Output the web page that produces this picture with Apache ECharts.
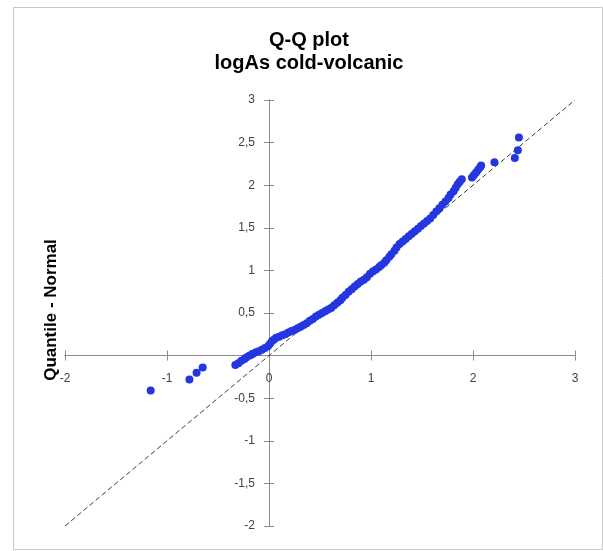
<!DOCTYPE html>
<html>
<head>
<meta charset="utf-8">
<script src="https://cdn.jsdelivr.net/npm/echarts@6/dist/echarts.min.js"></script>
<style>
  html, body { margin: 0; padding: 0; background: #ffffff; }
  #chart { width: 603px; height: 551px; }
</style>
</head>
<body>
<div id="chart"></div>
<script>
// Observed values (x) against normal quantiles (y) for logAs, cold-volcanic group
const obsX = [
  -1.16, -0.78, -0.71, -0.65,
  -0.33, -0.30, -0.27, -0.24, -0.22, -0.19, -0.16, -0.13, -0.10, -0.07, -0.04, -0.01,
  0.01, 0.03, 0.05, 0.07, 0.10, 0.13, 0.16, 0.19, 0.22, 0.25, 0.28, 0.31, 0.34, 0.37,
  0.40, 0.43, 0.46, 0.49, 0.52, 0.55, 0.58, 0.61, 0.64, 0.67, 0.70, 0.72, 0.75, 0.78,
  0.81, 0.84, 0.87, 0.90, 0.93, 0.96, 0.99, 1.02, 1.05, 1.08, 1.10, 1.13, 1.15, 1.18,
  1.20, 1.23, 1.25, 1.28, 1.31, 1.34, 1.37, 1.40, 1.43, 1.46, 1.49, 1.52, 1.55, 1.58,
  1.61, 1.64, 1.67, 1.70, 1.73, 1.76, 1.78, 1.81, 1.83, 1.85, 1.87, 1.89,
  1.99, 2.01, 2.03, 2.05, 2.07, 2.08,
  2.21, 2.41, 2.44, 2.45
];
const normQ = [
  -0.41, -0.28, -0.20, -0.14,
  -0.11, -0.09, -0.06, -0.04, -0.02, 0.00, 0.02, 0.04, 0.05, 0.07, 0.09, 0.11,
  0.14, 0.17, 0.19, 0.21, 0.22, 0.24, 0.25, 0.27, 0.29, 0.30, 0.32, 0.34, 0.36, 0.38,
  0.41, 0.43, 0.46, 0.48, 0.50, 0.52, 0.54, 0.56, 0.59, 0.62, 0.65, 0.68, 0.71, 0.75,
  0.78, 0.81, 0.84, 0.87, 0.89, 0.92, 0.96, 0.99, 1.01, 1.04, 1.06, 1.09, 1.12, 1.16,
  1.19, 1.23, 1.27, 1.31, 1.34, 1.37, 1.40, 1.43, 1.46, 1.49, 1.52, 1.55, 1.58, 1.61,
  1.65, 1.69, 1.73, 1.77, 1.81, 1.85, 1.89, 1.93, 1.97, 2.01, 2.04, 2.07,
  2.09, 2.12, 2.15, 2.18, 2.21, 2.23,
  2.27, 2.32, 2.41, 2.56
];
// Reference line y = x
const refLine = [[-2, -2], [3, 3]];

const xTicks = { min: -2, max: 3, step: 1 };
const yTicks = { min: -2, max: 3, step: 0.5 };

const titleLines = ['Q-Q plot', 'logAs cold-volcanic'];
const yTitle = 'Quantile - Normal';

const points = obsX.map((x, i) => [x, normQ[i]]);
const commaDecimal = v => String(v).replace('.', ',');

// Plot area in pixels; the axes cross at (0, 0)
const grid = { left: 65, right: 28, top: 100, bottom: 25 };
const chartW = 603, chartH = 551;
const plotW = chartW - grid.left - grid.right;
const plotH = chartH - grid.top - grid.bottom;
// Shift each axis from the plot edge onto the other axis's zero
const xAxisShift = -plotH * (0 - yTicks.min) / (yTicks.max - yTicks.min);
const yAxisShift = -plotW * (0 - xTicks.min) / (xTicks.max - xTicks.min);

const axisColor = '#8c8c8c';
const labelStyle = { color: '#404040', fontSize: 12, fontFamily: 'Liberation Sans, Arial, sans-serif' };

function xAxisDef(inside, showLabel) {
  return {
    type: 'value', position: 'bottom', offset: xAxisShift,
    min: xTicks.min, max: xTicks.max, interval: xTicks.step,
    axisLine: { onZero: false, lineStyle: { color: axisColor, width: 1 } },
    axisTick: { show: true, inside: inside, length: 5, lineStyle: { color: axisColor } },
    axisLabel: Object.assign({ show: showLabel, margin: 17, formatter: commaDecimal }, labelStyle),
    splitLine: { show: false }
  };
}
function yAxisDef(inside, showLabel) {
  return {
    type: 'value', position: 'left', offset: yAxisShift,
    min: yTicks.min, max: yTicks.max, interval: yTicks.step,
    axisLine: { onZero: false, lineStyle: { color: axisColor, width: 1 } },
    axisTick: { show: true, inside: inside, length: 5, lineStyle: { color: axisColor } },
    axisLabel: Object.assign({ show: showLabel, margin: 14, formatter: commaDecimal }, labelStyle),
    splitLine: { show: false }
  };
}

const chart = echarts.init(document.getElementById('chart'), null, { renderer: 'canvas' });
chart.setOption({
  animation: false,
  backgroundColor: '#ffffff',
  title: {
    text: titleLines.join('\n'),
    left: 304, top: 24, textAlign: 'center',
    textStyle: { fontSize: 20, fontWeight: 'bold', color: '#000000', lineHeight: 23,
                 fontFamily: 'Liberation Sans, Arial, sans-serif' }
  },
  grid: grid,
  xAxis: [xAxisDef(false, true), xAxisDef(true, false)],
  yAxis: [yAxisDef(false, true), yAxisDef(true, false)],
  graphic: [
    {
      type: 'rect', left: 11, top: 5, silent: true,
      shape: { width: 589, height: 542 },
      style: { fill: 'none', stroke: '#c8c8c8', lineWidth: 1 }
    },
    {
      type: 'text', x: 51, y: 310, rotation: Math.PI / 2, silent: true,
      style: {
        text: yTitle, fill: '#000000', fontSize: 17, fontWeight: 'bold',
        fontFamily: 'Liberation Sans, Arial, sans-serif',
        align: 'center', verticalAlign: 'middle'
      }
    }
  ],
  series: [
    {
      type: 'line', data: refLine, symbol: 'none', z: 1,
      lineStyle: { color: '#3a3a3a', width: 1, type: [5, 3] }
    },
    {
      type: 'scatter', data: points, symbol: 'circle', symbolSize: 8, z: 3,
      itemStyle: { color: '#2436e0', opacity: 1 }
    }
  ]
});
</script>
</body>
</html>
